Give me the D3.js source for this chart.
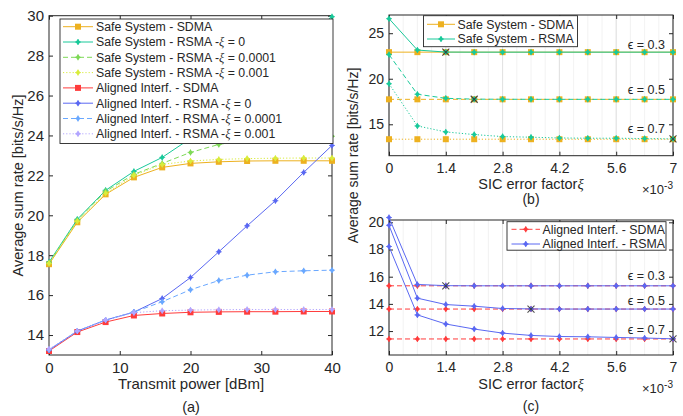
<!DOCTYPE html>
<html><head><meta charset="utf-8">
<script src="https://cdnjs.cloudflare.com/ajax/libs/d3/7.8.5/d3.min.js"></script>
<style>
body{margin:0;background:#fff}
text{font-family:"Liberation Sans",Arial,Helvetica,sans-serif;fill:#262626}
</style></head>
<body><svg id="chart" width="683" height="416"></svg>
<script>
// ---------- Data: panel (a) ----------
const powerDbm = [0,4,8,12,16,20,24,28,32,36,40];
const safeSdmaA        = [17.55,19.65,21.05,21.9,22.4,22.6,22.68,22.72,22.73,22.73,22.73];
const safeRsmaXi0A     = [17.65,19.8,21.25,22.2,22.9,23.85,25.0,26.2,27.5,28.85,29.95];
const safeRsmaXi1e4A   = [17.6,19.75,21.2,22.05,22.6,23.15,23.55,23.78,23.88,23.93,23.96];
const safeRsmaXi1e3A   = [17.6,19.7,21.1,22.0,22.55,22.72,22.8,22.84,22.86,22.87,22.87];
const alignedSdmaA     = [13.2,14.15,14.65,14.98,15.08,15.14,15.16,15.17,15.17,15.18,15.18];
const alignedRsmaXi0A  = [13.25,14.2,14.75,15.15,15.83,16.88,18.17,19.47,20.73,22.15,23.5];
const alignedRsmaXi1e4A= [13.25,14.2,14.75,15.15,15.67,16.27,16.73,17.0,17.17,17.22,17.25];
const alignedRsmaXi1e3A= [13.3,14.2,14.75,15.12,15.22,15.25,15.27,15.28,15.28,15.28,15.28];
const legendA = [
  "Safe System - SDMA","Safe System - RSMA -|ξ| = 0","Safe System - RSMA -|ξ| = 0.0001","Safe System - RSMA -|ξ| = 0.001",
  "Aligned Interf. - SDMA","Aligned Interf. - RSMA -|ξ| = 0","Aligned Interf. - RSMA -|ξ| = 0.0001","Aligned Interf. - RSMA -|ξ| = 0.001"];
const xTicksA = [0,10,20,30,40];
const yTicksA = [14,16,18,20,22,24,26,28,30];

// ---------- Data: panels (b) and (c) ----------
const sicXi = [0,0.7,1.4,2.1,2.8,3.5,4.2,4.9,5.6,6.3,7]; // x 1e-3
const xTicksBC = [0,1.4,2.8,4.2,5.6,7];
const epsLabels = ["ϵ = 0.3","ϵ = 0.5","ϵ = 0.7"];

const safeSdmaB03 = [22.92,22.92,22.92,22.92,22.92,22.92,22.92,22.92,22.92,22.92,22.92];
const safeRsmaB03 = [26.6,23.15,22.93,22.92,22.92,22.92,22.92,22.92,22.92,22.92,22.92];
const safeSdmaB05 = [17.74,17.74,17.74,17.74,17.74,17.74,17.74,17.74,17.74,17.74,17.74];
const safeRsmaB05 = [22.65,18.3,17.85,17.76,17.75,17.74,17.74,17.74,17.74,17.74,17.74];
const safeSdmaB07 = [13.36,13.36,13.36,13.36,13.36,13.36,13.36,13.36,13.36,13.36,13.36];
const safeRsmaB07 = [19.45,14.82,14.16,13.87,13.65,13.58,13.5,13.47,13.47,13.43,13.4];
const crossXB = [1.4,2.1,7];
const crossYB = [22.92,17.75,13.4];
const yTicksB = [15,20,25];
const legendB = ["Safe System - SDMA","Safe System - RSMA"];

const alignedSdmaC03 = [15.33,15.33,15.33,15.33,15.33,15.33,15.33,15.33,15.33,15.33,15.33];
const alignedRsmaC03 = [20.35,15.43,15.34,15.33,15.33,15.33,15.33,15.33,15.33,15.33,15.33];
const alignedSdmaC05 = [13.62,13.62,13.62,13.62,13.62,13.62,13.62,13.62,13.62,13.62,13.62];
const alignedRsmaC05 = [19.78,14.42,13.95,13.83,13.66,13.63,13.62,13.62,13.62,13.62,13.62];
const alignedSdmaC07 = [11.42,11.42,11.42,11.42,11.42,11.42,11.42,11.42,11.42,11.42,11.42];
const alignedRsmaC07 = [18.22,13.19,12.52,12.15,11.85,11.68,11.6,11.58,11.53,11.49,11.43];
const crossXC = [1.4,3.5,7];
const crossYC = [15.33,13.62,11.42];
const yTicksC = [12,14,16,18,20];
const legendC = ["Aligned Interf. - SDMA","Aligned Interf. - RSMA"];

// ---------- Styles ----------
const C = {
  orange:"#edb120", teal:"#19c99a", lgreen:"#7ed957", yellow:"#d9ec3c",
  red:"#ff3c3c", blue:"#5a68f2", lblue:"#6aa8ff", lav:"#b3a6ff"
};
const DASH = "5,3", DOT = "1.2,2";
const SERIF = "Liberation Serif, DejaVu Serif, serif";

const svg = d3.select("#chart");

function makeAxes(g, x, y, xt, yt, xfmt, grid, fs) {
  const [x0,x1] = x.range(), [y0,y1] = y.range();
  if (grid) {
    const minor = d3.range(0, 7.0001, 0.35);
    g.append("g").selectAll("line").data(minor).join("line")
      .attr("x1",d=>x(d)).attr("x2",d=>x(d)).attr("y1",y0).attr("y2",y1)
      .attr("stroke","#efefef").attr("stroke-width",0.8);
    g.append("g").selectAll("line").data(xt).join("line")
      .attr("x1",d=>x(d)).attr("x2",d=>x(d)).attr("y1",y0).attr("y2",y1)
      .attr("stroke","#dcdcdc").attr("stroke-width",0.8);
  }
  const ax = d3.axisBottom(x).tickValues(xt).tickFormat(xfmt).tickSizeInner(-4).tickSizeOuter(0).tickPadding(7);
  const ay = d3.axisLeft(y).tickValues(yt).tickSizeInner(-4).tickSizeOuter(0).tickPadding(5);
  const gx = g.append("g").attr("transform",`translate(0,${y0})`).call(ax);
  const gy = g.append("g").attr("transform",`translate(${x0},0)`).call(ay);
  g.append("g").attr("transform",`translate(0,${y1})`).call(d3.axisTop(x).tickValues(xt).tickFormat("").tickSizeInner(-4).tickSizeOuter(0));
  g.append("g").attr("transform",`translate(${x1},0)`).call(d3.axisRight(y).tickValues(yt).tickFormat("").tickSizeInner(-4).tickSizeOuter(0));
  g.selectAll(".domain").remove();
  g.selectAll(".tick line").attr("stroke","#262626");
  [gx,gy].forEach(a=>a.selectAll("text").attr("font-size",fs).attr("fill","#262626").style("font-family","Liberation Sans, Arial, sans-serif"));
  g.append("rect").attr("x",x0).attr("y",y1).attr("width",x1-x0).attr("height",y0-y1)
    .attr("fill","none").attr("stroke","#262626").attr("stroke-width",1);
}

function marker(g, type, cx, cy, color, size) {
  if (type==="square") {
    g.append("rect").attr("x",cx-size/2).attr("y",cy-size/2).attr("width",size).attr("height",size).attr("fill",color);
  } else if (type==="diamond") {
    const s=size/2;
    g.append("path").attr("d",`M${cx},${cy-s}L${cx+s*0.8},${cy}L${cx},${cy+s}L${cx-s*0.8},${cy}Z`).attr("fill",color);
    g.append("path").attr("d",`M${cx-s},${cy}L${cx+s},${cy}M${cx},${cy-s}L${cx},${cy+s}`).attr("stroke",color).attr("stroke-width",0.8);
  } else if (type==="cross") {
    const s=size/2;
    g.append("path").attr("d",`M${cx-s},${cy-s}L${cx+s},${cy+s}M${cx-s},${cy+s}L${cx+s},${cy-s}`)
      .attr("stroke","#333").attr("stroke-width",1.1).attr("opacity",0.85);
  }
}

function series(g, x, y, xs, ys, color, dash, mtype, msize) {
  const line = d3.line().x((d,i)=>x(xs[i])).y(d=>y(d));
  g.append("path").datum(ys).attr("d",line).attr("fill","none").attr("stroke",color)
    .attr("stroke-width",1).attr("stroke-dasharray",dash||null);
  ys.forEach((v,i)=>marker(g, mtype, x(xs[i]), y(v), color, msize));
}

function richText(t, str) {
  const parts = str.split("|");
  parts.forEach((p,i)=>{
    const ts = t.append("tspan").text(p);
    if (i%2===1) ts.attr("font-style","italic").style("font-family",SERIF);
  });
}

function legend(g, x0, y0, w, h, items, rowY, lineX0, lineX1, textX) {
  g.append("rect").attr("x",x0).attr("y",y0).attr("width",w).attr("height",h)
    .attr("fill","#fff").attr("stroke","#262626").attr("stroke-width",0.9);
  items.forEach((it,i)=>{
    const yy = rowY[i];
    g.append("line").attr("x1",lineX0).attr("x2",lineX1).attr("y1",yy).attr("y2",yy)
      .attr("stroke",it.color).attr("stroke-width",1).attr("stroke-dasharray",it.dash||null);
    marker(g, it.m, (lineX0+lineX1)/2, yy, it.color, 6);
    const t = g.append("text").attr("x",textX).attr("y",yy).attr("dy","0.36em").attr("font-size",12.3);
    richText(t, it.label);
  });
}

function label(txt, x, y, size, rot, anchor) {
  const t = svg.append("text").attr("font-size",size).attr("text-anchor",anchor||"middle")
    .attr("transform",`translate(${x},${y})${rot?` rotate(${rot})`:""}`);
  richText(t, txt);
  return t;
}

// ---------- Panel (a) ----------
{
  const g = svg.append("g");
  const x = d3.scaleLinear().domain([0,40]).range([49,332]);
  const y = d3.scaleLinear().domain([13,30]).range([355,15.7]);
  makeAxes(g, x, y, xTicksA, yTicksA, d3.format("d"), false, 15);
  const S = [
    [safeSdmaA, C.orange, null, "square"],
    [safeRsmaXi0A, C.teal, null, "diamond"],
    [safeRsmaXi1e4A, C.lgreen, DASH, "diamond"],
    [safeRsmaXi1e3A, C.yellow, DOT, "diamond"],
    [alignedSdmaA, C.red, null, "square"],
    [alignedRsmaXi0A, C.blue, null, "diamond"],
    [alignedRsmaXi1e4A, C.lblue, DASH, "diamond"],
    [alignedRsmaXi1e3A, C.lav, DOT, "diamond"],
  ];
  S.forEach(s=>series(g, x, y, powerDbm, s[0], s[1], s[2], s[3], 6));
  const rows = d3.range(8).map(i=>26.7+i*15.3);
  legend(g, 60, 19, 273, 124.5, S.map((s,i)=>({color:s[1],dash:s[2],m:s[3],label:legendA[i]})), rows, 63, 93, 96);
  label("Average sum rate [bits/s/Hz]", 18, 185.5, 14.5, -90).attr("dy","0.35em");
  label("Transmit power [dBm]", 191, 388.5, 15);
  label("(a)", 191, 412, 14.5);
}

// ---------- Panel (b) ----------
{
  const g = svg.append("g");
  const x = d3.scaleLinear().domain([0,7]).range([389,673]);
  const y = d3.scaleLinear().domain([11.55,27]).range([155.7,15]);
  makeAxes(g, x, y, xTicksBC, yTicksB, d=>d3.format("~g")(d), true, 14);
  const S = [
    [safeSdmaB03, C.orange, null, "square"], [safeRsmaB03, C.teal, null, "diamond"],
    [safeSdmaB05, C.orange, DASH, "square"], [safeRsmaB05, C.teal, DASH, "diamond"],
    [safeSdmaB07, C.orange, DOT, "square"], [safeRsmaB07, C.teal, DOT, "diamond"],
  ];
  S.forEach(s=>series(g, x, y, sicXi, s[0], s[1], s[2], s[3], 6));
  crossXB.forEach((cx,i)=>marker(g,"cross",x(cx),y(crossYB[i]),"#333",7));
  [safeSdmaB03[10], safeSdmaB05[10], safeRsmaB07[10]].forEach((v,i)=>{
    g.append("text").attr("x",665).attr("y",y(v)-[3.5,5,6][i]).attr("text-anchor","end").attr("font-size",12.5)
      .text(epsLabels[i]);
  });
  legend(g, 423.5, 15.7, 154, 31, [
    {color:C.orange,m:"square",label:legendB[0]},{color:C.teal,m:"diamond",label:legendB[1]}],
    [24.3,39], 427, 455, 457.5);
  label("SIC error factor|ξ|", 531, 188.5, 14.5);
  label("(b)", 531, 204, 14);
  const t = svg.append("text").attr("x",673).attr("y",193.5).attr("text-anchor","end").attr("font-size",13);
  t.append("tspan").text("×10");
  t.append("tspan").attr("dy",-5).attr("font-size",10).text("-3");
}

// ---------- Panel (c) ----------
{
  const g = svg.append("g");
  const x = d3.scaleLinear().domain([0,7]).range([389,673]);
  const y = d3.scaleLinear().domain([10.24,20.17]).range([355,220]);
  makeAxes(g, x, y, xTicksBC, yTicksC, d=>d3.format("~g")(d), true, 14);
  const S = [
    [alignedSdmaC03, C.red, DASH, "diamond"], [alignedRsmaC03, C.blue, null, "diamond"],
    [alignedSdmaC05, C.red, DASH, "diamond"], [alignedRsmaC05, C.blue, null, "diamond"],
    [alignedSdmaC07, C.red, DASH, "diamond"], [alignedRsmaC07, C.blue, null, "diamond"],
  ];
  S.forEach(s=>series(g, x, y, sicXi, s[0], s[1], s[2], s[3], 6));
  crossXC.forEach((cx,i)=>marker(g,"cross",x(cx),y(crossYC[i]),"#333",7));
  [alignedSdmaC03[10], alignedSdmaC05[10], alignedRsmaC07[10]].forEach((v,i)=>{
    g.append("text").attr("x",665).attr("y",y(v)-[5.5,4.5,4.5][i]).attr("text-anchor","end").attr("font-size",12.5)
      .text(epsLabels[i]);
  });
  legend(g, 507, 221.7, 159, 28.5, [
    {color:C.red,dash:DASH,m:"diamond",label:legendC[0]},{color:C.blue,m:"diamond",label:legendC[1]}],
    [229.3,244], 511.5, 540, 542.5);
  label("SIC error factor|ξ|", 531, 389, 14.5);
  label("(c)", 531, 411, 14);
  const t = svg.append("text").attr("x",673).attr("y",392.5).attr("text-anchor","end").attr("font-size",13);
  t.append("tspan").text("×10");
  t.append("tspan").attr("dy",-5).attr("font-size",10).text("-3");
}
label("Average sum rate [bits/s/Hz]", 353, 155.5, 14, -90).attr("dy","0.35em");
</script></body></html>
